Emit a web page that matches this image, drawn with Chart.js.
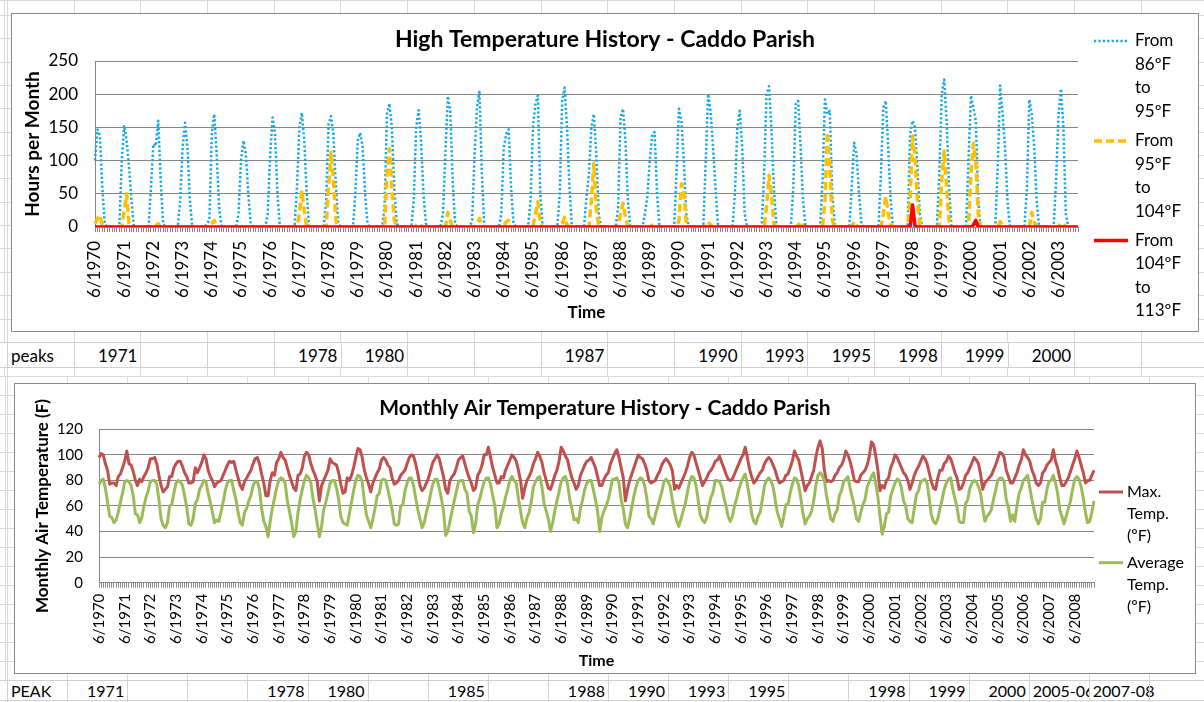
<!DOCTYPE html>
<html>
<head>
<meta charset="utf-8">
<script src="https://cdn.jsdelivr.net/npm/chart.js@4"></script>
<style>
  html, body { margin: 0; padding: 0; background: #fff; }
  body { width: 1204px; height: 702px; position: relative; overflow: hidden; font-family: Lato, "Open Sans", sans-serif; }
  .abs { position: absolute; }
  #sheetTop {
    left: 0; top: 0; width: 1204px; height: 342px;
    background-image:
      repeating-linear-gradient(to right, #d9d9d9 0 1px, transparent 1px 66.7px),
      repeating-linear-gradient(to bottom, #d9d9d9 0 1px, transparent 1px 23.35px);
    background-position: 7px 0, 0 15px;
  }
  #sheetGap {
    left: 0; top: 367px; width: 1204px; height: 10px;
    background-image: repeating-linear-gradient(to right, #d9d9d9 0 1px, transparent 1px 66.7px);
    background-position: 7px 0;
  }
  #sheetBottom {
    left: 0; top: 376px; width: 1204px; height: 326px;
    background-image:
      repeating-linear-gradient(to right, #d9d9d9 0 1px, transparent 1px 60.1px),
      repeating-linear-gradient(to bottom, #d9d9d9 0 1px, transparent 1px 19px);
    background-position: 7px 0, 0 0;
  }
  .row { position: absolute; left: 0; width: 1204px; background: #fff;
         border-top: 1px solid #d0d0d0; border-bottom: 1px solid #d0d0d0; box-sizing: border-box; }
  .cell { position: absolute; top: 0; bottom: 0; box-sizing: border-box; border-left: 1px solid #d0d0d0;
          white-space: nowrap; overflow: hidden; color: #000; display: flex; align-items: center; }
  .cell.num { justify-content: flex-end; padding-right: 3px; }
  .cell.txt { justify-content: flex-start; padding-left: 3px; }
  .cell.spill { overflow: visible; }
  .box { position: absolute; border: 1px solid #8a8a8a; box-sizing: border-box; background: #fff; }
  .box canvas { position: absolute; left: 0; top: 0; }
</style>
</head>
<body>
<div id="sheetTop" class="abs"></div>
<div id="sheetGap" class="abs"></div>
<div id="sheetBottom" class="abs"></div>

<div class="box" style="left:11px; top:13px; width:1188px; height:319px;">
  <canvas id="highChart" width="1186" height="317" style="width:1186px;height:317px;"></canvas>
</div>
<div id="peaksRow" class="row" style="top:342px; height:26px; font-size:17px;"></div>

<div class="box" style="left:14px; top:383px; width:1182px; height:291px;">
  <canvas id="tempChart" width="1180" height="289" style="width:1180px;height:289px;"></canvas>
</div>
<div id="peakRow" class="row" style="top:680px; height:21px; font-size:16px;"></div>

<script>
// hours per month in each temperature band, monthly from 6/1970 to 2/2004
const hours86to95 = [
  100,147,138,60,5,0,0,                   // 1970 Jun-Dec
  0,0,0,0,100,153,130,90,40,0,0,0,        // 1971
  0,0,0,0,60,125,122,160,70,5,0,0,        // 1972
  0,0,0,0,40,120,157,120,40,0,0,0,        // 1973
  0,0,0,5,10,140,170,110,30,0,0,0,        // 1974
  0,0,0,0,20,100,130,110,50,5,0,0,        // 1975
  0,0,0,0,20,110,165,140,50,0,0,0,        // 1976
  0,0,0,0,60,150,172,130,50,0,0,0,        // 1977
  0,0,0,0,40,155,167,140,60,5,0,0,        // 1978
  0,0,0,0,50,130,142,120,50,5,0,0,        // 1979
  0,0,0,0,30,170,186,150,60,5,0,0,        // 1980
  0,0,0,0,40,150,176,130,50,5,0,0,        // 1981
  0,0,0,0,20,110,197,175,70,5,0,0,        // 1982
  0,0,0,0,10,110,180,205,80,0,0,0,        // 1983
  0,0,0,0,20,120,140,147,60,5,0,0,        // 1984
  0,0,0,0,40,150,185,198,50,0,0,0,        // 1985
  0,0,0,0,50,190,210,150,60,0,0,0,        // 1986
  0,0,0,46,80,150,170,110,20,0,0,0,       // 1987
  0,0,0,0,30,165,178,130,40,0,0,0,        // 1988
  0,0,0,20,45,100,140,143,50,0,0,0,       // 1989
  0,0,0,0,80,178,160,100,20,0,0,0,        // 1990
  0,0,0,0,100,200,175,120,60,5,0,0,       // 1991
  0,0,0,0,50,150,175,120,20,0,0,0,        // 1992
  0,0,0,0,80,200,212,150,60,5,0,0,        // 1993
  0,0,0,0,60,185,190,120,40,0,0,0,        // 1994
  0,0,0,0,70,192,170,175,50,5,0,0,        // 1995
  0,0,0,0,60,127,110,50,5,0,0,0,          // 1996
  0,0,0,0,80,180,190,120,40,0,0,0,        // 1997
  0,0,0,0,140,160,150,90,20,0,0,0,        // 1998
  0,0,0,0,80,200,222,160,60,0,0,0,        // 1999
  0,0,0,0,100,198,180,160,40,0,0,0,       // 2000
  0,0,0,0,90,213,170,120,40,0,0,0,        // 2001
  0,0,0,0,60,192,170,120,40,0,0,0,        // 2002
  0,0,0,0,70,170,208,150,20,0,0,0,        // 2003
  0,0                                     // 2004 Jan-Feb
];
const hours95to104 = [
  5,12,18,3,0,0,0,
  0,0,0,0,0,25,50,5,0,0,0,0,
  0,0,0,0,0,0,2,5,0,0,0,0,
  0,0,0,0,0,0,0,0,0,0,0,0,
  0,0,0,0,0,5,10,2,0,0,0,0,
  0,0,0,0,0,0,0,0,0,0,0,0,
  0,0,0,0,0,0,0,0,0,0,0,0,
  0,0,0,0,0,20,55,25,0,0,0,0,
  0,0,0,0,0,60,113,70,10,0,0,0,
  0,0,0,0,0,0,0,0,0,0,0,0,
  0,0,0,0,0,80,118,60,10,0,0,0,
  0,0,0,0,0,2,5,2,0,0,0,0,
  0,0,0,0,0,0,22,10,0,0,0,0,
  0,0,0,0,0,0,5,13,2,0,0,0,
  0,0,0,0,0,0,8,10,0,0,0,0,
  0,0,0,0,0,0,20,38,5,0,0,0,
  0,0,0,0,0,5,15,3,0,0,0,0,
  0,0,0,0,0,40,96,30,0,0,0,0,
  0,0,0,0,0,20,36,15,0,0,0,0,
  0,0,0,0,0,0,3,0,0,0,0,0,
  0,0,0,0,0,10,65,55,5,0,0,0,
  0,0,0,0,0,8,3,0,0,0,0,0,
  0,0,0,0,0,0,0,0,0,0,0,0,
  0,0,0,0,0,30,78,50,5,0,0,0,
  0,0,0,0,0,0,3,8,0,0,0,0,
  0,0,0,0,0,40,143,90,10,0,0,0,
  0,0,0,0,0,8,2,0,0,0,0,0,
  0,0,0,0,0,20,46,20,5,0,0,0,
  0,0,0,0,40,137,110,40,5,0,0,0,
  0,0,0,0,0,70,115,60,10,0,0,0,
  0,0,0,0,0,80,126,100,20,0,0,0,
  0,0,0,0,0,8,3,0,0,0,0,0,
  0,0,0,0,0,0,22,8,0,0,0,0,
  0,0,0,0,0,0,6,4,0,0,0,0,
  0,0
];
const hours104to113 = [
  0,0,0,0,0,0,0,
  0,0,0,0,0,0,0,0,0,0,0,0,  // 1971
  0,0,0,0,0,0,0,0,0,0,0,0,
  0,0,0,0,0,0,0,0,0,0,0,0,
  0,0,0,0,0,0,0,0,0,0,0,0,
  0,0,0,0,0,0,0,0,0,0,0,0,  // 1975
  0,0,0,0,0,0,0,0,0,0,0,0,
  0,0,0,0,0,0,0,0,0,0,0,0,
  0,0,0,0,0,0,0,0,0,0,0,0,
  0,0,0,0,0,0,0,0,0,0,0,0,
  0,0,0,0,0,0,0,0,0,0,0,0,  // 1980
  0,0,0,0,0,0,0,0,0,0,0,0,
  0,0,0,0,0,0,0,0,0,0,0,0,
  0,0,0,0,0,0,0,0,0,0,0,0,
  0,0,0,0,0,0,0,0,0,0,0,0,
  0,0,0,0,0,0,0,0,0,0,0,0,  // 1985
  0,0,0,0,0,0,0,0,0,0,0,0,
  0,0,0,0,0,0,0,0,0,0,0,0,
  0,0,0,0,0,0,0,0,0,0,0,0,
  0,0,0,0,0,0,0,0,0,0,0,0,
  0,0,0,0,0,0,0,0,0,0,0,0,  // 1990
  0,0,0,0,0,0,0,0,0,0,0,0,
  0,0,0,0,0,0,0,0,0,0,0,0,
  0,0,0,0,0,0,0,0,0,0,0,0,
  0,0,0,0,0,0,0,0,0,0,0,0,
  0,0,0,0,0,0,0,0,0,0,0,0,  // 1995
  0,0,0,0,0,0,0,0,0,0,0,0,
  0,0,0,0,0,0,0,0,0,0,0,0,
  0,0,0,0,0,33,2,0,0,0,0,0,  // 1998
  0,0,0,0,0,0,0,0,0,0,0,0,
  0,0,0,0,0,0,3,10,0,0,0,0,  // 2000
  0,0,0,0,0,0,0,0,0,0,0,0,
  0,0,0,0,0,0,0,0,0,0,0,0,
  0,0,0,0,0,0,0,0,0,0,0,0,
  0,0
];

// monthly air temperature (F), monthly from 6/1970 to 3/2009
const maxTempF = [
  98,101,100,93,88,77,78,                 // 1970 Jun-Dec
  78,76,83,85,90,95,103,93,92,87,80,76,   // 1971
  81,79,83,86,90,97,97,98,93,84,76,71,    // 1972
  73,75,83,83,90,93,95,95,91,86,83,78,    // 1973
  78,79,90,86,90,94,100,97,88,83,80,75,   // 1974
  78,79,80,84,88,92,95,94,95,88,82,76,    // 1975
  73,79,82,85,88,93,97,98,93,85,78,68,    // 1976
  68,80,86,84,94,97,102,98,96,90,84,79,   // 1977
  74,72,84,85,90,99,102,100,93,88,84,79,  // 1978
  64,76,80,84,88,97,94,93,92,86,77,70,    // 1979
  71,82,80,84,90,98,105,104,98,88,82,77,  // 1980
  71,78,82,86,89,96,98,96,92,90,82,77,    // 1981
  78,80,84,86,88,93,98,100,99,93,85,76,   // 1982
  72,74,78,82,88,94,97,100,97,90,83,73,   // 1983
  70,80,83,85,90,96,98,99,93,87,82,78,    // 1984
  72,74,84,87,92,100,100,106,98,90,84,78, // 1985
  78,83,82,88,92,96,100,98,95,88,80,66,   // 1986
  74,80,83,87,93,97,102,99,94,86,80,74,   // 1987
  73,78,84,88,95,106,103,99,96,88,82,78,  // 1988
  73,76,84,88,92,95,96,98,94,90,83,76,    // 1989
  76,81,84,86,93,97,101,104,98,90,82,64,  // 1990
  73,80,85,90,95,100,98,97,93,88,80,78,   // 1991
  79,80,84,87,92,95,97,95,92,87,73,76,    // 1992
  74,78,82,86,91,98,102,100,94,88,82,76,  // 1993
  79,82,86,88,91,95,96,99,94,90,85,81,    // 1994
  80,81,85,89,93,97,100,106,98,89,83,78,  // 1995
  80,83,86,88,93,96,98,96,92,88,82,78,    // 1996
  79,80,84,85,90,95,103,99,96,88,80,72,   // 1997
  76,78,83,88,98,106,111,105,88,79,80,79, // 1998
  80,84,86,90,92,96,103,100,95,88,80,79,  // 1999
  79,84,86,88,92,99,110,108,99,88,72,76,  // 2000
  74,80,82,90,94,100,98,94,90,86,84,80,   // 2001
  73,78,84,88,91,95,99,97,93,86,79,74,    // 2002
  73,82,88,88,93,95,99,97,92,86,82,73,    // 2003
  74,78,84,86,90,94,98,96,93,85,73,78,    // 2004
  80,82,84,88,92,97,102,101,98,88,83,78,  // 2005
  78,82,86,92,96,104,100,98,95,88,84,78,  // 2006
  76,78,86,88,92,94,96,104,95,90,82,76,   // 2007
  76,79,82,87,92,97,103,98,92,86,78,80,   // 2008
  80,84,88                                // 2009 Jan-Mar
];
const avgTempF = [
  77,80,81,74,63,52,51,
  47,49,55,63,70,79,80,79,76,68,54,53,    // 1971
  47,51,60,67,72,79,80,80,77,65,50,45,
  43,47,60,61,70,78,80,79,76,68,59,46,
  45,50,62,65,73,76,80,79,70,63,55,47,
  49,48,55,63,72,78,80,80,72,65,55,47,    // 1975
  45,55,58,64,68,76,79,79,73,58,48,44,
  36,48,58,66,74,80,82,81,78,64,56,47,
  36,40,55,65,73,80,84,82,78,66,57,46,
  36,44,57,63,70,78,80,80,74,65,52,47,
  46,45,54,63,72,80,84,83,79,64,53,48,    // 1980
  43,50,58,68,70,80,81,80,73,65,57,46,
  45,46,60,61,72,78,82,82,76,66,57,50,
  43,47,55,61,70,77,81,81,74,66,56,37,
  40,48,56,64,71,79,80,80,73,70,56,52,
  39,46,61,66,73,79,82,82,77,68,60,43,    // 1985
  46,54,59,67,73,80,83,80,78,66,56,47,
  43,51,55,63,75,79,82,83,75,62,56,50,
  40,47,56,64,71,79,82,83,77,65,58,49,
  50,47,58,65,73,78,80,80,73,65,56,40,
  51,56,60,65,73,81,81,82,78,65,58,46,    // 1990
  43,50,59,68,75,80,82,81,76,66,52,50,
  46,53,59,65,71,79,81,79,75,64,55,48,
  44,50,56,62,71,79,83,82,76,65,53,49,
  47,51,60,67,71,80,80,79,75,67,60,52,
  48,52,60,66,73,78,82,85,77,67,54,48,    // 1995
  46,52,55,65,76,80,82,80,75,65,55,50,
  44,52,61,61,70,77,82,81,76,66,54,46,
  50,52,56,64,76,84,86,84,80,68,59,50,
  48,54,57,68,72,79,81,83,74,67,60,50,
  48,55,61,65,75,79,83,86,78,67,52,38,    // 2000
  44,54,55,68,73,78,81,80,74,64,60,50,
  48,47,58,69,72,79,80,81,78,66,53,48,
  46,50,58,65,73,78,81,82,73,66,59,48,
  47,47,62,65,74,78,80,79,75,70,58,48,
  52,54,57,65,72,80,82,82,79,65,59,48,    // 2005
  53,48,60,70,74,80,82,84,74,65,57,50,
  46,50,63,63,73,79,80,84,78,70,57,52,
  46,52,58,64,73,81,83,81,75,66,55,47,
  48,55,64
];

// row labels under each chart
const peaksCells = ['peaks','1971','','','1978','1980','','','1987','','1990','1993','1995','1998','1999','2000','',''];
const peakCells = ['PEAK','1971','','','1978','1980','','1985','','1988','1990','1993','1995','','1998','1999','2000','2005-06','2007-08',''];

function monthLabels(month, year, n) {
  const out = [];
  for (let i = 0; i < n; i++) {
    out.push(month + '/' + year);
    month++;
    if (month > 12) { month = 1; year++; }
  }
  return out;
}
const highLabels = monthLabels(6, 1970, hours86to95.length);
const tempLabels = monthLabels(6, 1970, maxTempF.length);

// rows of cells; text spills over into an empty neighbour like in the sheet
function buildRow(id, cells, x0, w) {
  const row = document.getElementById(id);
  cells.forEach((c, i) => {
    const d = document.createElement('div');
    d.className = 'cell ' + (/^\d+$/.test(c) ? 'num' : 'txt');
    if (c && !/^\d+$/.test(c) && cells[i + 1] === '') d.className += ' spill';
    d.style.left = (x0 + i * w) + 'px';
    d.style.width = w + 'px';
    d.textContent = c;
    row.appendChild(d);
  });
}
buildRow('peaksRow', peaksCells, 7, 66.7);
buildRow('peakRow', peakCells, 7, 60.1);

Chart.defaults.font.family = 'Lato';
Chart.defaults.color = '#000';

const GRID = '#868686';

// legend drawn in the right hand margin of each chart
const sideLegend = {
  id: 'sideLegend',
  afterDraw(chart, args, opts) {
    const ctx = chart.ctx;
    ctx.save();
    ctx.font = opts.size + 'px Lato';
    ctx.textBaseline = 'middle';
    ctx.textAlign = 'left';
    opts.items.forEach((it, k) => {
      const ds = chart.data.datasets[k];
      ctx.beginPath();
      ctx.setLineDash(ds.borderDash || []);
      ctx.lineWidth = ds.borderWidth;
      ctx.strokeStyle = ds.borderColor;
      ctx.moveTo(opts.x0, it.y);
      ctx.lineTo(opts.x1, it.y);
      ctx.stroke();
      ctx.fillStyle = '#000';
      it.lines.forEach((t, j) => ctx.fillText(t, opts.textX, it.y + j * opts.gap));
    });
    ctx.restore();
  }
};

new Chart(document.getElementById('highChart'), {
  type: 'line',
  data: {
    labels: highLabels,
    datasets: [{
      label: 'From 86ºF to 95ºF',
      data: hours86to95,
      borderColor: '#14a8e6',
      borderWidth: 2.5,
      borderDash: [2.2, 2.2],
      order: 2
    }, {
      label: 'From 95ºF to 104ºF',
      data: hours95to104,
      borderColor: '#ffc000',
      borderWidth: 3.5,
      borderDash: [8, 4],
      order: 1
    }, {
      label: 'From 104ºF to 113ºF',
      data: hours104to113,
      borderColor: '#ff0000',
      borderWidth: 3.5,
      order: 0
    }]
  },
  options: {
    responsive: false,
    animation: false,
    layout: { padding: 0 },
    elements: { point: { radius: 0 }, line: { tension: 0, borderCapStyle: 'butt', borderJoinStyle: 'round' } },
    plugins: {
      legend: { display: false },
      tooltip: { enabled: false },
      title: {
        display: true,
        text: 'High Temperature History - Caddo Parish',
        font: { size: 23, weight: 'bold' },
        color: '#000',
        padding: { top: 12.2, bottom: 7.2 }
      },
      sideLegend: {
        size: 17, x0: 1082, x1: 1116, textX: 1123, gap: 23.5,
        items: [
          { y: 27, lines: ['From', '86ºF', 'to', '95ºF'] },
          { y: 127, lines: ['From', '95ºF', 'to', '104ºF'] },
          { y: 226.5, lines: ['From', '104ºF', 'to', '113ºF'] }
        ]
      }
    },
    scales: {
      x: {
        offset: false,
        grid: { drawOnChartArea: false, drawTicks: true, tickLength: 5, color: GRID },
        border: { color: GRID },
        ticks: {
          autoSkip: false, maxRotation: 90, minRotation: 90, padding: 9,
          font: { size: 17 },
          callback: function (v) { const l = this.getLabelForValue(v); return l.startsWith('6/') ? l : ''; }
        },
        title: { display: true, text: 'Time', font: { size: 17, weight: 'bold' }, padding: { top: 0, bottom: 8 } },
        afterFit(s) { s.height = 104; }
      },
      y: {
        min: 0, max: 250,
        ticks: { stepSize: 50, padding: 17, font: { size: 17 } },
        grid: { color: GRID, drawTicks: false },
        border: { color: GRID },
        title: { display: true, text: 'Hours per Month', font: { size: 19, weight: 'bold' }, padding: { top: 9, bottom: 0 } },
        afterFit(s) { s.width = 83; }
      },
      side: {
        position: 'right',
        ticks: { display: false },
        grid: { display: false },
        border: { display: false },
        afterFit(s) { s.width = 120; }
      }
    }
  },
  plugins: [sideLegend]
});

new Chart(document.getElementById('tempChart'), {
  type: 'line',
  data: {
    labels: tempLabels,
    datasets: [{
      label: 'Max. Temp. (ºF)',
      data: maxTempF,
      borderColor: '#c0504d',
      borderWidth: 3,
      order: 1
    }, {
      label: 'Average Temp. (ºF)',
      data: avgTempF,
      borderColor: '#9bbb59',
      borderWidth: 3,
      order: 0
    }]
  },
  options: {
    responsive: false,
    animation: false,
    layout: { padding: 0 },
    elements: { point: { radius: 0 }, line: { tension: 0, borderJoinStyle: 'round' } },
    plugins: {
      legend: { display: false },
      tooltip: { enabled: false },
      title: {
        display: true,
        text: 'Monthly Air Temperature History - Caddo Parish',
        font: { size: 21, weight: 'bold' },
        color: '#000',
        padding: { top: 11.4, bottom: 8.7 }
      },
      sideLegend: {
        size: 16, x0: 1084, x1: 1108, textX: 1112, gap: 22,
        items: [
          { y: 108, lines: ['Max.', 'Temp.', '(ºF)'] },
          { y: 178.7, lines: ['Average', 'Temp.', '(ºF)'] }
        ]
      }
    },
    scales: {
      x: {
        offset: false,
        grid: { drawOnChartArea: false, drawTicks: true, tickLength: 5, color: GRID },
        border: { color: GRID },
        ticks: {
          autoSkip: false, maxRotation: 90, minRotation: 90, padding: 6,
          font: { size: 15 },
          callback: function (v) { const l = this.getLabelForValue(v); return l.startsWith('6/') ? l : ''; }
        },
        title: { display: true, text: 'Time', font: { size: 16, weight: 'bold' }, padding: { top: 0, bottom: 2.5 } },
        afterFit(s) { s.height = 90.3; }
      },
      y: {
        min: 0, max: 120,
        ticks: { stepSize: 20, padding: 16, font: { size: 15 } },
        grid: { color: GRID, drawTicks: false },
        border: { color: GRID },
        title: { display: true, text: 'Monthly Air Temperature (F)', font: { size: 17, weight: 'bold' }, padding: { top: 17.5, bottom: 0 } },
        afterFit(s) { s.width = 84; }
      },
      side: {
        position: 'right',
        ticks: { display: false },
        grid: { display: false },
        border: { display: false },
        afterFit(s) { s.width = 101; }
      }
    }
  },
  plugins: [sideLegend]
});
</script>
</body>
</html>
